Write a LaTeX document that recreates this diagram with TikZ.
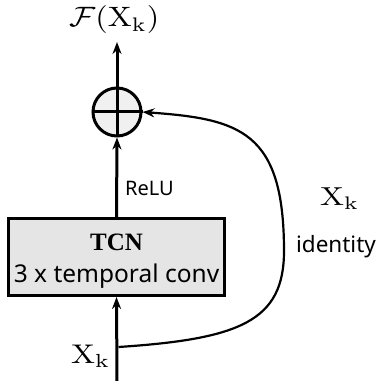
\documentclass[tikz,border=0pt]{standalone}
\usepackage{graphicx}
\usepackage{fontspec}
\setsansfont{Noto Sans}
\newfontfamily\tnr{Liberation Serif}
\usetikzlibrary{arrows.meta}
\newcommand{\mylbl}[3]{\scalebox{#1}[#2]{$#3$}}
\begin{document}
\begin{tikzpicture}[x=1pt,y=1pt,
  conn/.style={line width=3pt,-{Stealth[length=12pt,width=9pt]}},
  skip/.style={line width=2.2pt,-{Stealth[length=12pt,width=9pt]}},
  lbl/.style={inner sep=0pt,anchor=base west},
  sanslbl/.style={inner sep=0pt,font=\sffamily\fontsize{20}{22}\selectfont}]
\useasboundingbox (0,0) rectangle (377,381);
\coordinate (in) at (117,0);
\node[draw,line width=3pt,fill=black!10,minimum width=216pt,minimum height=77pt,inner sep=0pt] (tcn) at (116.5,124) {};
\node[inner sep=0pt,anchor=base,font=\tnr\bfseries\fontsize{25}{27}\selectfont] (tcnt) at (116.5,130) {TCN};
\node[inner sep=0pt,anchor=base,font=\sffamily\fontsize{24.5}{26}\selectfont] (tcns) at (116.5,98) {3 x temporal conv};
\node[circle,draw,line width=3pt,fill=black!6,minimum size=48pt,inner sep=0pt] (sum) at (117,269) {};
\draw[line width=3pt] (sum.north) -- (sum.south) (sum.west) -- (sum.east);
\coordinate (out) at (117,339);
\node[lbl] (fx) at (69,354) {\mylbl{3.2}{2.8}{\mathcal{F}(\mathrm{X}_\mathrm{k})}};
\node[lbl] (xin) at (71,18) {\mylbl{3.2}{2.7}{\mathrm{X}_\mathrm{k}}};
\node[lbl] (xr) at (320,175) {\mylbl{3.2}{2.6}{\mathrm{X}_\mathrm{k}}};
\node[sanslbl,anchor=base west] (relu) at (125,185) {ReLU};
\node[sanslbl,anchor=base,font=\sffamily\fontsize{22.5}{24}\selectfont] (id) at (336,128) {identity};
\draw[conn] (in) -- (tcn.south);
\draw[conn] (tcn.north) -- (sum.south);
\draw[conn] (sum.north) -- (out);
\draw[skip] ([xshift=1.5pt,yshift=34pt]in) .. controls (240,42) and (284,60) .. (284,130)
  .. controls (284,250) and (240,262) .. (sum.east);
\end{tikzpicture}
\end{document}
